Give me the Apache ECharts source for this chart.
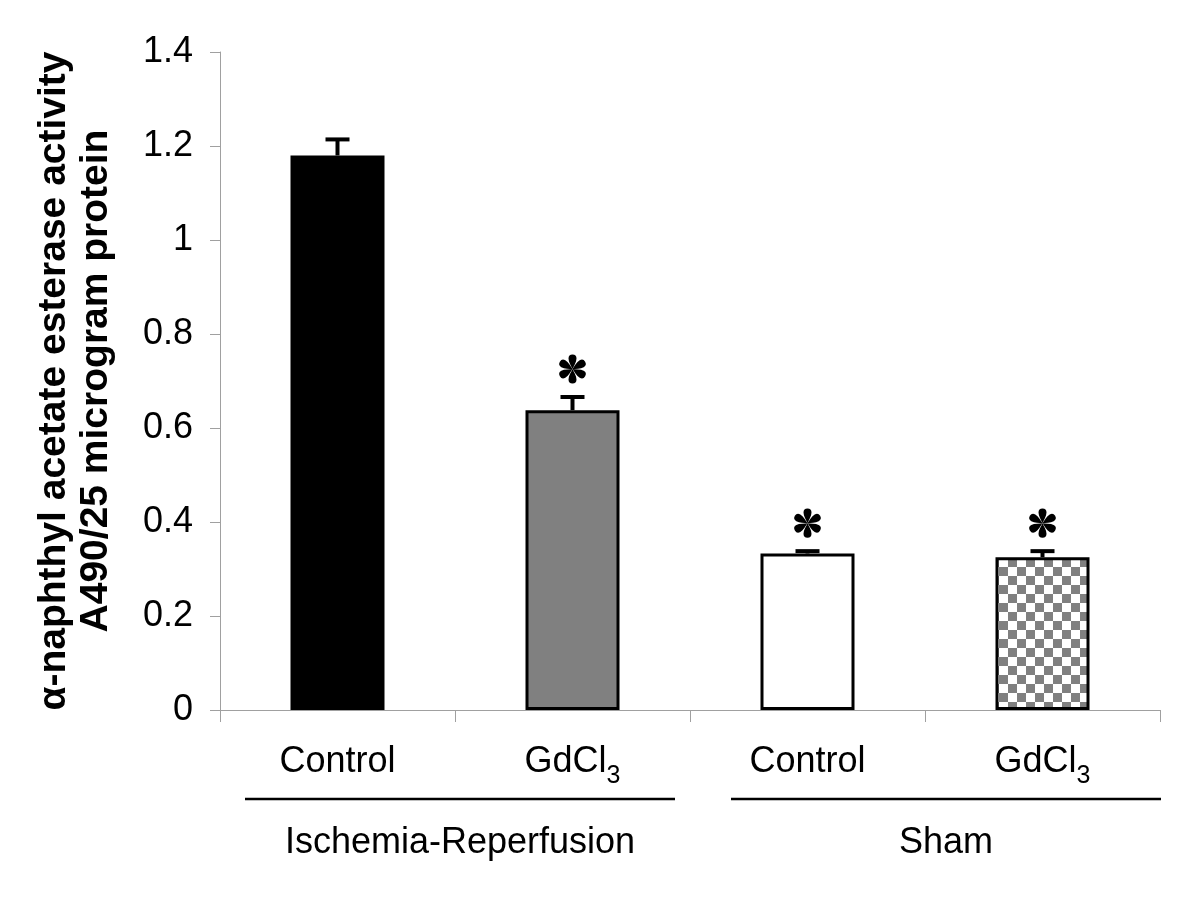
<!DOCTYPE html>
<html><head><meta charset="utf-8">
<script src="https://cdn.jsdelivr.net/npm/echarts@6/dist/echarts.min.js"></script>
<style>html,body{margin:0;padding:0;background:#fff}#c{width:1200px;height:905px}</style>
</head><body><div id="c"></div>
<script>
// ---- data ----
const categories = ['Control', 'GdCl3', 'Control', 'GdCl3'];
const groups = ['Ischemia-Reperfusion', 'Sham'];
const groupMembers = [[0, 1], [2, 3]];
const means = [1.18, 0.638, 0.333, 0.325];
const errors = [0.034, 0.028, 0.005, 0.013];
const significant = [false, true, true, true];
const yTickLabels = ['0', '0.2', '0.4', '0.6', '0.8', '1', '1.2', '1.4'];
const yTitle = 'α-naphthyl acetate esterase activity\nA490/25 microgram protein';

// ---- styles ----
const FONT = "'Liberation Sans', Arial, sans-serif";
function checker() {
  const c = document.createElement('canvas');
  c.width = 18; c.height = 18;
  const g = c.getContext('2d');
  g.fillStyle = '#ffffff'; g.fillRect(0, 0, 18, 18);
  g.fillStyle = '#808080'; g.fillRect(0, 0, 9, 9); g.fillRect(9, 9, 9, 9);
  return c;
}
const fills = ['#000000', '#808080', '#ffffff', { image: checker(), repeat: 'repeat' }];
// teardrop petal of the significance asterisk (glyph shape, tip at origin)
const PETAL = 'M0 0 C-1.3 -3 -4 -7 -4 -10.6 A4 4 0 0 1 4 -10.6 C4 -7 1.3 -3 0 0 Z';

const chart = echarts.init(document.getElementById('c'), null, { renderer: 'canvas' });

function catLabel(v) {
  const m = /^(.*?)(\d+)$/.exec(v);
  return m ? '{a|' + m[1] + '}{s|' + m[2] + '}' : '{a|' + v + '}';
}

const option = {
  animation: false,
  backgroundColor: '#ffffff',
  grid: { left: 220, right: 40, top: 52, bottom: 195 },
  xAxis: {
    type: 'category',
    data: categories,
    axisLine: { lineStyle: { color: '#a0a0a0', width: 1 } },
    axisTick: { show: true, length: 12, alignWithLabel: false, lineStyle: { color: '#a0a0a0' } },
    axisLabel: {
      margin: 34,
      formatter: catLabel,
      rich: {
        a: { fontFamily: FONT, fontSize: 36, color: '#000', lineHeight: 40, verticalAlign: 'top' },
        s: { fontFamily: FONT, fontSize: 25, color: '#000', lineHeight: 45, verticalAlign: 'bottom' }
      }
    }
  },
  yAxis: {
    type: 'value',
    min: 0, max: 1.4, interval: 0.2,
    splitLine: { show: false },
    axisLine: { show: true, lineStyle: { color: '#a0a0a0', width: 1 } },
    axisTick: { show: true, length: 10, lineStyle: { color: '#a0a0a0' } },
    axisLabel: {
      margin: 27, fontFamily: FONT, fontSize: 36, color: '#000',
      formatter: (v) => yTickLabels[Math.round(v / 0.2)]
    },
    name: yTitle,
    nameLocation: 'middle',
    nameGap: 103,
    nameRotate: 90,
    nameTextStyle: { fontFamily: FONT, fontSize: 39, fontWeight: 'bold', color: '#000', lineHeight: 42, align: 'center' }
  },
  series: [
    {
      type: 'bar',
      barWidth: 94,
      data: means.map((v, i) => ({ value: v, itemStyle: { color: fills[i] } })),
      itemStyle: { borderColor: '#000', borderWidth: 3 }
    },
    {
      type: 'custom',
      data: means.map((v, i) => [i, v, errors[i], significant[i] ? 1 : 0]),
      renderItem: function (params, api) {
        const i = api.value(0), v = api.value(1), e = api.value(2), sig = api.value(3);
        const base = api.coord([i, v]);
        const top = api.coord([i, v + e]);
        const halfCap = 12;
        const children = [
          { type: 'line', shape: { x1: base[0], y1: base[1], x2: top[0], y2: top[1] }, style: { stroke: '#000', lineWidth: 4 } },
          { type: 'line', shape: { x1: top[0] - halfCap, y1: top[1], x2: top[0] + halfCap, y2: top[1] }, style: { stroke: '#000', lineWidth: 4 } }
        ];
        if (sig) {
          const cx = top[0], cy = top[1] - 28;
          for (let k = 0; k < 6; k++) {
            children.push({
              type: 'path', x: cx, y: cy, rotation: k * Math.PI / 3,
              shape: { pathData: PETAL },
              style: { fill: '#000' }
            });
          }
        }
        return { type: 'group', children: children };
      },
      z: 5
    }
  ]
};
chart.setOption(option);

// group bracket lines and labels under the category labels
function groupGraphics() {
  const y0 = chart.convertToPixel({ yAxisIndex: 0 }, 0);
  const p0 = chart.convertToPixel({ xAxisIndex: 0 }, 0);
  const p1 = chart.convertToPixel({ xAxisIndex: 0 }, 1);
  const step = p1 - p0;
  const pads = [[25, 15], [41, -1]];
  const els = [];
  groupMembers.forEach((mem, g) => {
    const left = chart.convertToPixel({ xAxisIndex: 0 }, mem[0]) - step / 2 + pads[g][0];
    const right = chart.convertToPixel({ xAxisIndex: 0 }, mem[mem.length - 1]) + step / 2 - pads[g][1];
    els.push({ type: 'line', shape: { x1: left, y1: y0 + 89, x2: right, y2: y0 + 89 }, style: { stroke: '#000', lineWidth: 2.5 } });
    els.push({ type: 'text', style: { text: groups[g], x: (left + right) / 2, y: y0 + 133, align: 'center', verticalAlign: 'middle', fontFamily: FONT, fontSize: 36, fill: '#000' } });
  });
  chart.setOption({ graphic: els });
}
groupGraphics();
</script>
</body></html>
